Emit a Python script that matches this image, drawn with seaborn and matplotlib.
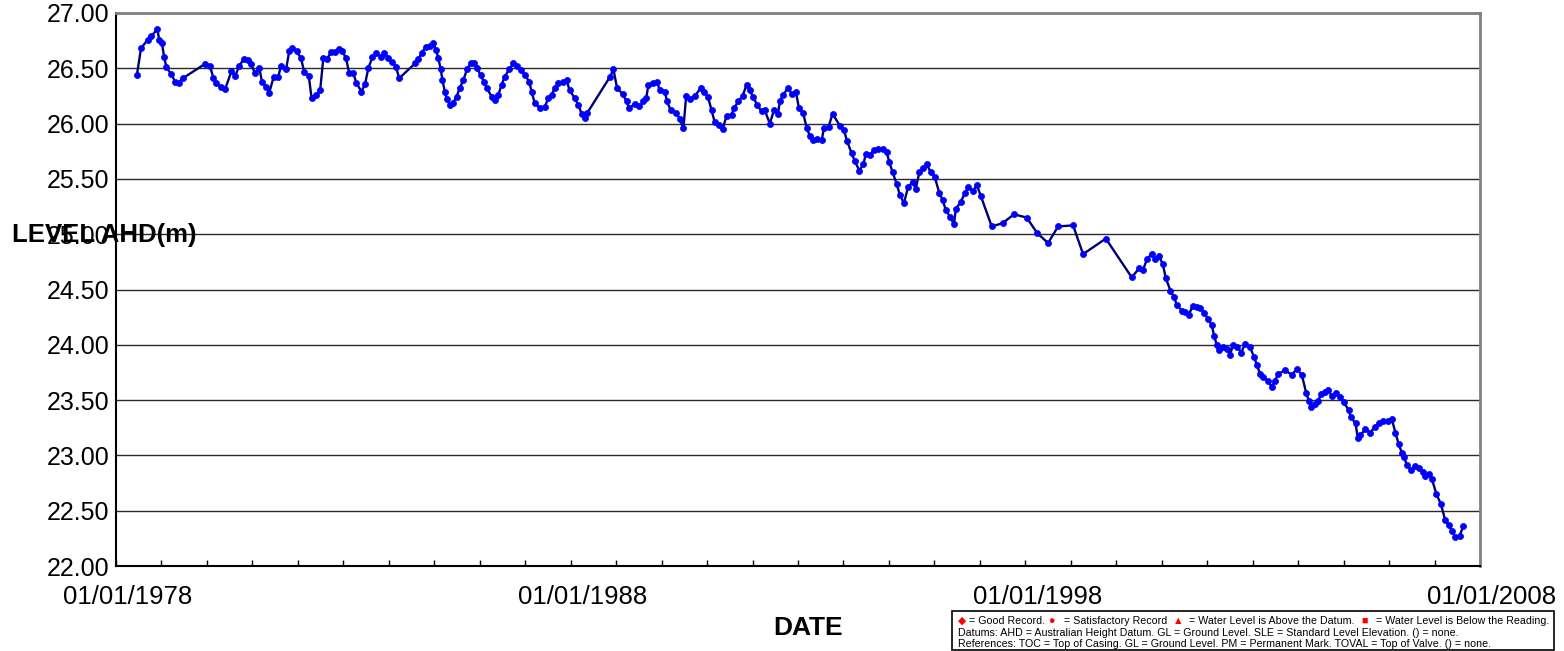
import pandas as pd
import matplotlib
matplotlib.use("Agg")
import matplotlib.pyplot as plt
import matplotlib.dates as mdates
import matplotlib.transforms as mtransforms
from matplotlib.patches import Rectangle
import seaborn as sns

# Bore water level record (decimal year, level in metres AHD)
years = [
    1978.46, 1978.55, 1978.70, 1978.78, 1978.91, 1978.95, 1979.01, 1979.06, 1979.11, 1979.21,
    1979.30, 1979.38, 1979.47, 1979.96, 1980.07, 1980.14, 1980.21, 1980.31, 1980.40, 1980.54,
    1980.62, 1980.71, 1980.81, 1980.90, 1980.97, 1981.06, 1981.15, 1981.21, 1981.30, 1981.37,
    1981.47, 1981.57, 1981.63, 1981.74, 1981.81, 1981.88, 1981.97, 1982.07, 1982.14, 1982.24,
    1982.30, 1982.40, 1982.49, 1982.56, 1982.64, 1982.73, 1982.81, 1982.90, 1982.98, 1983.06,
    1983.13, 1983.22, 1983.29, 1983.40, 1983.48, 1983.55, 1983.64, 1983.73, 1983.82, 1983.89,
    1983.99, 1984.08, 1984.16, 1984.23, 1984.58, 1984.65, 1984.72, 1984.82, 1984.91, 1984.98,
    1985.04, 1985.09, 1985.14, 1985.18, 1985.23, 1985.28, 1985.34, 1985.42, 1985.49, 1985.56,
    1985.64, 1985.72, 1985.80, 1985.87, 1985.94, 1986.02, 1986.09, 1986.16, 1986.26, 1986.33,
    1986.41, 1986.48, 1986.55, 1986.65, 1986.74, 1986.81, 1986.90, 1986.99, 1987.09, 1987.14,
    1987.21, 1987.32, 1987.43, 1987.51, 1987.58, 1987.65, 1987.73, 1987.84, 1987.91, 1987.98,
    1988.09, 1988.17, 1988.24, 1988.31, 1988.37, 1988.86, 1988.94, 1989.02, 1989.14, 1989.23,
    1989.29, 1989.41, 1989.51, 1989.60, 1989.66, 1989.71, 1989.80, 1989.90, 1989.96, 1990.07,
    1990.12, 1990.20, 1990.32, 1990.40, 1990.48, 1990.54, 1990.62, 1990.73, 1990.86, 1990.93,
    1991.02, 1991.10, 1991.17, 1991.27, 1991.34, 1991.43, 1991.54, 1991.59, 1991.69, 1991.78,
    1991.87, 1991.94, 1992.01, 1992.10, 1992.20, 1992.27, 1992.38, 1992.47, 1992.56, 1992.60,
    1992.67, 1992.78, 1992.86, 1992.95, 1993.02, 1993.11, 1993.19, 1993.26, 1993.33, 1993.42,
    1993.52, 1993.57, 1993.67, 1993.76, 1993.92, 1994.01, 1994.08, 1994.18, 1994.25, 1994.35,
    1994.44, 1994.49, 1994.58, 1994.67, 1994.76, 1994.86, 1994.95, 1995.01, 1995.08, 1995.17,
    1995.24, 1995.33, 1995.42, 1995.52, 1995.59, 1995.67, 1995.75, 1995.83, 1995.92, 1996.01,
    1996.11, 1996.18, 1996.25, 1996.34, 1996.43, 1996.47, 1996.58, 1996.67, 1996.74, 1996.85,
    1996.93, 1997.02, 1997.26, 1997.50, 1997.75, 1998.03, 1998.26, 1998.50, 1998.72, 1999.05,
    1999.27, 1999.77, 2000.34, 2000.50, 2000.59, 2000.68, 2000.78, 2000.85, 2000.94, 2001.02,
    2001.09, 2001.19, 2001.27, 2001.33, 2001.44, 2001.51, 2001.59, 2001.68, 2001.77, 2001.85,
    2001.93, 2002.02, 2002.10, 2002.15, 2002.21, 2002.26, 2002.34, 2002.43, 2002.50, 2002.57,
    2002.66, 2002.75, 2002.83, 2002.94, 2003.03, 2003.09, 2003.16, 2003.23, 2003.34, 2003.42,
    2003.49, 2003.56, 2003.71, 2003.86, 2003.97, 2004.08, 2004.18, 2004.24, 2004.29, 2004.37,
    2004.44, 2004.50, 2004.59, 2004.66, 2004.74, 2004.84, 2004.93, 2005.00, 2005.11, 2005.16,
    2005.26, 2005.31, 2005.37, 2005.48, 2005.59, 2005.68, 2005.77, 2005.87, 2005.97, 2006.06,
    2006.14, 2006.21, 2006.28, 2006.33, 2006.39, 2006.48, 2006.58, 2006.65, 2006.74, 2006.79,
    2006.87, 2006.94, 2007.04, 2007.14, 2007.23, 2007.31, 2007.38, 2007.46, 2007.55, 2007.63,
]
levels = [
    26.44, 26.68, 26.76, 26.79, 26.855, 26.76, 26.73, 26.60, 26.51, 26.45,
    26.38, 26.37, 26.41, 26.54, 26.52, 26.415, 26.365, 26.33, 26.31, 26.475,
    26.43, 26.52, 26.585, 26.575, 26.535, 26.455, 26.505, 26.38, 26.335, 26.28,
    26.425, 26.425, 26.525, 26.49, 26.655, 26.685, 26.655, 26.59, 26.465, 26.43,
    26.235, 26.26, 26.30, 26.59, 26.585, 26.645, 26.645, 26.675, 26.655, 26.59,
    26.455, 26.455, 26.365, 26.29, 26.36, 26.50, 26.60, 26.64, 26.605, 26.64,
    26.59, 26.56, 26.51, 26.41, 26.545, 26.58, 26.64, 26.695, 26.70, 26.725,
    26.665, 26.59, 26.49, 26.395, 26.29, 26.22, 26.17, 26.19, 26.245, 26.32,
    26.395, 26.49, 26.545, 26.545, 26.50, 26.44, 26.38, 26.32, 26.245, 26.21,
    26.26, 26.35, 26.425, 26.49, 26.545, 26.52, 26.485, 26.44, 26.38, 26.29,
    26.185, 26.14, 26.15, 26.23, 26.26, 26.32, 26.365, 26.38, 26.39, 26.30,
    26.23, 26.17, 26.09, 26.055, 26.10, 26.42, 26.49, 26.32, 26.27, 26.20,
    26.14, 26.18, 26.155, 26.20, 26.23, 26.35, 26.37, 26.38, 26.30, 26.29,
    26.20, 26.12, 26.10, 26.04, 25.96, 26.25, 26.22, 26.25, 26.32, 26.29,
    26.24, 26.12, 26.01, 25.99, 25.95, 26.07, 26.08, 26.14, 26.20, 26.25,
    26.35, 26.30, 26.245, 26.17, 26.11, 26.12, 26.00, 26.12, 26.09, 26.20,
    26.26, 26.32, 26.27, 26.29, 26.14, 26.10, 25.96, 25.89, 25.85, 25.86,
    25.85, 25.96, 25.97, 26.09, 25.98, 25.94, 25.84, 25.73, 25.66, 25.575,
    25.635, 25.725, 25.715, 25.76, 25.77, 25.77, 25.74, 25.65, 25.56, 25.455,
    25.355, 25.28, 25.425, 25.47, 25.41, 25.56, 25.595, 25.635, 25.56, 25.515,
    25.37, 25.31, 25.22, 25.16, 25.09, 25.225, 25.295, 25.37, 25.425, 25.39,
    25.445, 25.345, 25.07, 25.10, 25.18, 25.15, 25.01, 24.92, 25.07, 25.08,
    24.82, 24.96, 24.61, 24.69, 24.68, 24.78, 24.82, 24.78, 24.80, 24.73,
    24.60, 24.49, 24.43, 24.36, 24.31, 24.30, 24.27, 24.35, 24.345, 24.33,
    24.29, 24.23, 24.18, 24.08, 24.00, 23.95, 23.98, 23.96, 23.91, 24.00,
    23.98, 23.93, 24.01, 23.98, 23.89, 23.82, 23.74, 23.71, 23.67, 23.62,
    23.675, 23.735, 23.77, 23.73, 23.78, 23.73, 23.56, 23.49, 23.44, 23.465,
    23.49, 23.555, 23.575, 23.59, 23.54, 23.56, 23.53, 23.48, 23.41, 23.345,
    23.29, 23.16, 23.185, 23.235, 23.205, 23.26, 23.29, 23.31, 23.31, 23.325,
    23.205, 23.10, 23.025, 22.99, 22.91, 22.87, 22.905, 22.89, 22.85, 22.81,
    22.83, 22.79, 22.65, 22.56, 22.42, 22.37, 22.32, 22.26, 22.27, 22.36,
]

tick_dates = ["1978-01-01", "1988-01-01", "1998-01-01", "2008-01-01"]
tick_labels = ["01/01/1978", "01/01/1988", "01/01/1998", "01/01/2008"]
y_ticks = [22.0, 22.5, 23.0, 23.5, 24.0, 24.5, 25.0, 25.5, 26.0, 26.5, 27.0]

legend_line1 = [
    ("\u25C6", "#ff0000"), (" = Good Record. ", "black"),
    ("\u25CF", "#ff0000"), ("   = Satisfactory Record  ", "black"),
    ("\u25B2", "#ff0000"), ("  = Water Level is Above the Datum.  ", "black"),
    ("\u25A0", "#ff0000"), ("   = Water Level is Below the Reading.", "black"),
]
legend_line2 = ("Datums: AHD = Australian Height Datum. GL = Ground Level. "
                "SLE = Standard Level Elevation. () = none.")
legend_line3 = ("References: TOC = Top of Casing. GL = Ground Level. "
                "PM = Permanent Mark. TOVAL = Top of Valve. () = none.")


def decimal_year_to_timestamp(y):
    yr = int(y)
    start = pd.Timestamp(year=yr, month=1, day=1)
    end = pd.Timestamp(year=yr + 1, month=1, day=1)
    return start + (end - start) * (y - yr)


df = pd.DataFrame({
    "date": [decimal_year_to_timestamp(y) for y in years],
    "level": levels,
})

sns.set_theme(style="white")
plt.rcParams["font.family"] = ["Liberation Sans", "DejaVu Sans"]
plt.rcParams["text.color"] = "black"

W, H = 1564, 651
fig = plt.figure(figsize=(W / 100, H / 100), dpi=100)
ax = fig.add_axes([116 / W, 1 - 566 / H, (1480 - 116) / W, (566 - 13) / H])

sns.lineplot(
    data=df, x="date", y="level", ax=ax, sort=False,
    color="#000070", linewidth=1.7,
    marker="o", markersize=4.4, markerfacecolor="#0000ff",
    markeredgecolor="#0000ff", markeredgewidth=0.5,
)

ax.set_xlim(pd.Timestamp(tick_dates[0]), pd.Timestamp(tick_dates[-1]))
ax.set_ylim(y_ticks[0], y_ticks[-1])

ax.set_xticks(mdates.date2num(pd.to_datetime(tick_dates)))
ax.set_xticklabels(tick_labels)
ax.xaxis.set_minor_locator(mdates.YearLocator(1))
ax.set_yticks(y_ticks)
ax.set_yticklabels([f"{v:.2f}" for v in y_ticks])

ax.tick_params(axis="x", which="both", direction="in", length=4, width=1,
               color="black", labelcolor="black", labelsize=18.5, pad=14,
               bottom=True)
ax.tick_params(axis="y", which="both", length=0, labelsize=18,
               labelcolor="black", pad=5)

# shift the date labels slightly to the right of their ticks
offset = mtransforms.ScaledTranslation(12 / 100, 0, fig.dpi_scale_trans)
for lbl in ax.get_xticklabels():
    lbl.set_transform(lbl.get_transform() + offset)

ax.yaxis.grid(True, color="#2a2a2a", linewidth=1)
ax.xaxis.grid(False)
ax.set_axisbelow(True)

for side in ("left", "bottom"):
    ax.spines[side].set_color("black")
    ax.spines[side].set_linewidth(1.5)
for side in ("top", "right"):
    ax.spines[side].set_color("#808080")
    ax.spines[side].set_linewidth(2)

ax.set_xlabel("")
ax.set_ylabel("")

fig.text(12 / W, 1 - 235 / H, "LEVEL AHD(m)", ha="left", va="center",
         fontsize=18.5, fontweight="bold")
fig.text(808 / W, 1 - 628 / H, "DATE", ha="center", va="center",
         fontsize=19, fontweight="bold")

# key box with symbol definitions
fig.add_artist(Rectangle((952 / W, 1 - 650 / H), (1554 - 952) / W, (650 - 611) / H,
                         transform=fig.transFigure, fill=False,
                         edgecolor="black", linewidth=1.2))
key_size = 7.7
prev = ax.annotate(legend_line1[0][0], xy=(958 / W, 1 - 624 / H),
                   xycoords="figure fraction", color=legend_line1[0][1],
                   fontsize=key_size, ha="left", va="baseline",
                   annotation_clip=False)
for text, col in legend_line1[1:]:
    prev = ax.annotate(text, xy=(1, 0), xycoords=prev, color=col,
                       fontsize=key_size, ha="left", va="bottom",
                       annotation_clip=False)
fig.text(958 / W, 1 - 635.5 / H, legend_line2, ha="left", va="baseline",
         fontsize=key_size)
fig.text(958 / W, 1 - 647 / H, legend_line3, ha="left", va="baseline",
         fontsize=key_size)

fig.savefig("out.png", dpi=100)
